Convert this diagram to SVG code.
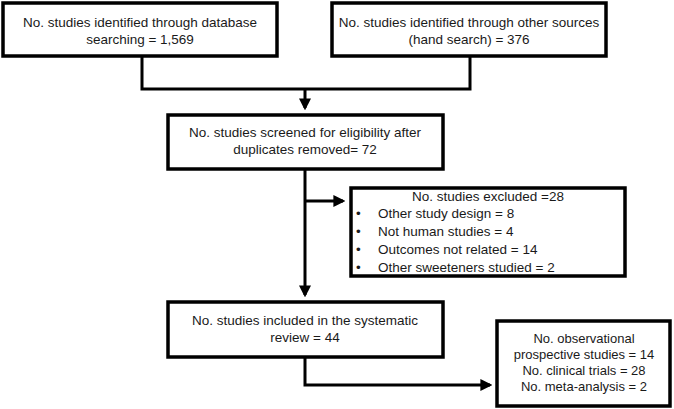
<svg xmlns="http://www.w3.org/2000/svg" width="674" height="409" viewBox="0 0 674 409">
<defs>
<marker id="ah" markerWidth="4" markerHeight="4" refX="3.2" refY="2" orient="auto" markerUnits="strokeWidth">
<path d="M0,0 L4,2 L0,4 z" fill="#000"/>
</marker>
</defs>
<style>
.box{fill:#fff;stroke:#000;stroke-width:3.5}
.t{font-family:"Liberation Sans",Arial,sans-serif;font-size:13.5px;fill:#1a1a1a;text-anchor:middle}
.s{font-size:13px}
.l{text-anchor:start}
.c{fill:none;stroke:#000;stroke-width:3}
</style>
<rect width="674" height="409" fill="#fff"/>
<g id="connectors">
<polyline class="c" points="142,57 142,89 470,89 470,57"/>
<line class="c" x1="305" y1="89" x2="305" y2="108" marker-end="url(#ah)"/>
<line class="c" x1="305" y1="169" x2="305" y2="295" marker-end="url(#ah)"/>
<line class="c" x1="305" y1="201" x2="343" y2="201" marker-end="url(#ah)"/>
<polyline class="c" points="305,357 305,385 490,385" marker-end="url(#ah)"/>
</g>
<g id="n1">
<rect class="box" x="3" y="3" width="274" height="53"/>
<text class="t" x="140" y="27">No. studies identified through database</text>
<text class="t" x="140" y="44">searching = 1,569</text>
</g>
<g id="n2">
<rect class="box" x="332" y="3" width="274" height="53"/>
<text class="t" x="469" y="27">No. studies identified through other sources</text>
<text class="t" x="469" y="44">(hand search) = 376</text>
</g>
<g id="n3">
<rect class="box" x="168" y="115" width="275" height="54"/>
<text class="t" x="305" y="137">No. studies screened for eligibility after</text>
<text class="t" x="305" y="154">duplicates removed= 72</text>
</g>
<g id="n4">
<rect class="box" x="351" y="188" width="274" height="88"/>
<text class="t" x="488" y="201">No. studies excluded =28</text>
<text class="t l" x="356" y="218">•</text>
<text class="t l" x="378" y="218">Other study design = 8</text>
<text class="t l" x="356" y="236">•</text>
<text class="t l" x="378" y="236">Not human studies = 4</text>
<text class="t l" x="356" y="254">•</text>
<text class="t l" x="378" y="254">Outcomes not related = 14</text>
<text class="t l" x="356" y="272">•</text>
<text class="t l" x="378" y="272">Other sweeteners studied = 2</text>
</g>
<g id="n5">
<rect class="box" x="168" y="302" width="275" height="55"/>
<text class="t" x="305" y="325">No. studies included in the systematic</text>
<text class="t" x="305" y="342">review = 44</text>
</g>
<g id="n6">
<rect class="box" x="497" y="321" width="173" height="85"/>
<text class="t s" x="584" y="343">No. observational</text>
<text class="t s" x="584" y="359">prospective studies = 14</text>
<text class="t s" x="584" y="375">No. clinical trials = 28</text>
<text class="t s" x="584" y="391">No. meta-analysis = 2</text>
</g>
</svg>
